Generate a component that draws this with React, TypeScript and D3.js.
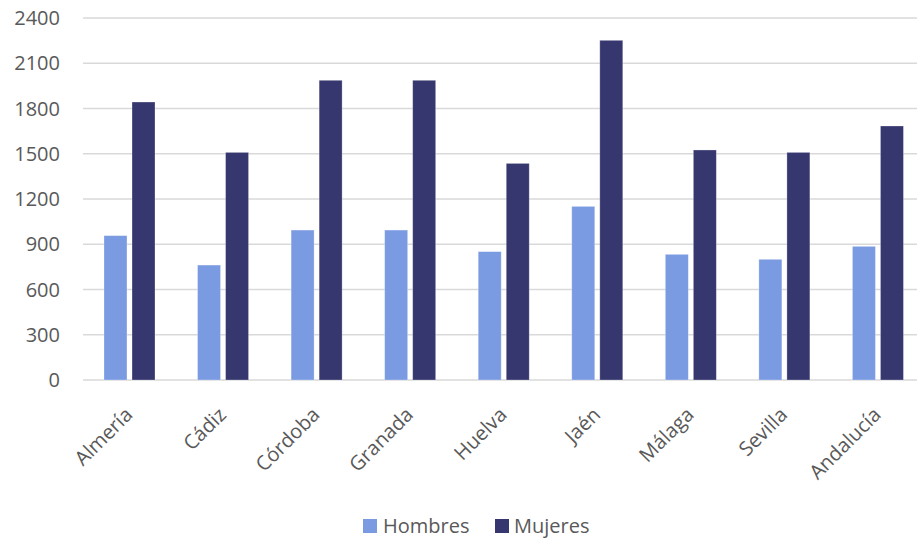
import React from "react";
import * as d3 from "d3";

// Provinces of Andalucía plus the regional total
const categories = [
  "Almería",
  "Cádiz",
  "Córdoba",
  "Granada",
  "Huelva",
  "Jaén",
  "Málaga",
  "Sevilla",
  "Andalucía",
];

const hombres = [957, 762, 994, 994, 851, 1151, 833, 800, 886];
const mujeres = [1843, 1509, 1987, 1987, 1436, 2252, 1525, 1509, 1684];

const seriesNames = ["Hombres", "Mujeres"];
const seriesColors = ["#7a9ae1", "#37376f"];

const yTicks = [0, 300, 600, 900, 1200, 1500, 1800, 2100, 2400];

const W = 917;
const H = 538;
const FONT = "'Open Sans', 'Liberation Sans', sans-serif";
const TEXT = "#595959";

export default function App() {
  const plotLeft = 83;
  const plotRight = 925;
  const y = d3.scaleLinear().domain([0, 2400]).range([380, 18]);
  const x0 = d3.scaleBand<string>().domain(categories).range([plotLeft, plotRight]);
  const x1 = d3
    .scaleBand<string>()
    .domain(seriesNames)
    .range([21, 72])
    .paddingInner(0.18);

  const series = [hombres, mujeres];

  return (
    <svg
      width={W}
      height={H}
      style={{ position: "absolute", left: 0, top: 0, background: "#fff" }}
      fontFamily={FONT}
    >
      <rect width={W} height={H} fill="#fff" />
      {yTicks.map((t) => (
        <g key={t}>
          <line
            x1={plotLeft}
            x2={W}
            y1={y(t)}
            y2={y(t)}
            stroke="#d9d9d9"
            strokeWidth={1.5}
          />
          <text
            x={60}
            y={y(t)}
            dy="0.36em"
            textAnchor="end"
            fontSize={20}
            fill={TEXT}
          >
            {t}
          </text>
        </g>
      ))}
      {categories.map((c, i) => (
        <g key={c} transform={`translate(${x0(c)},0)`}>
          {seriesNames.map((s, k) => {
            const v = series[k][i];
            return (
              <rect
                key={s}
                x={x1(s)}
                y={y(v)}
                width={x1.bandwidth()}
                height={y(0) - y(v)}
                fill={seriesColors[k]}
                stroke="#ffffff"
                strokeOpacity={0.35}
                strokeWidth={0.8}
              />
            );
          })}
        </g>
      ))}
      {categories.map((c) => {
        const cx = (x0(c) as number) + x0.bandwidth() / 2 + 4;
        return (
          <text
            key={c}
            transform={`translate(${cx},416) rotate(-45)`}
            textAnchor="end"
            fontSize={20}
            fill={TEXT}
          >
            {c}
          </text>
        );
      })}
      <g>
        {[
          { x: 363, tx: 383 },
          { x: 495, tx: 514 },
        ].map((p, k) => (
          <g key={seriesNames[k]}>
            <rect x={p.x} y={519} width={14} height={14} fill={seriesColors[k]} />
            <text x={p.tx} y={533} fontSize={20} fill={TEXT}>
              {seriesNames[k]}
            </text>
          </g>
        ))}
      </g>
    </svg>
  );
}
